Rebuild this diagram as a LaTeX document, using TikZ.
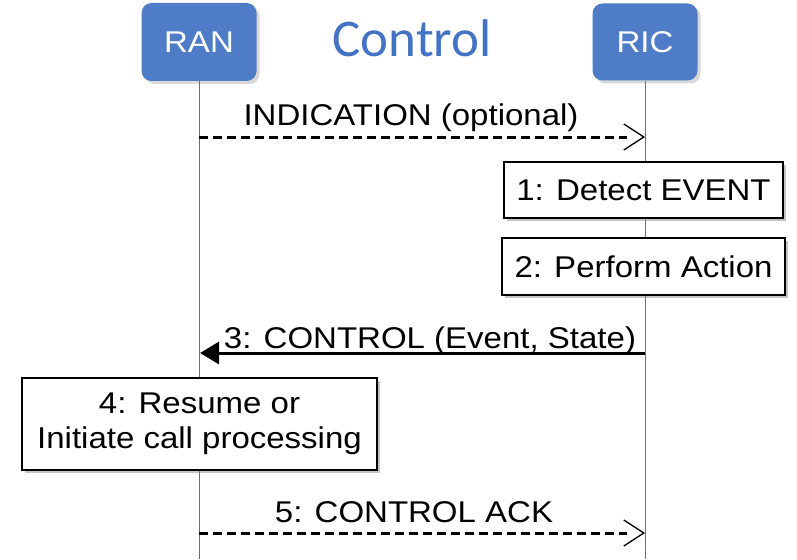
\documentclass[tikz,border=0pt]{standalone}
\usepackage{fontspec}
\setmainfont{Liberation Sans}[FakeStretch=1.1]
\newfontfamily\titlefont{Carlito}
\usetikzlibrary{arrows.meta,shadows,decorations.markings}
\definecolor{ranblue}{RGB}{79,124,199}
\definecolor{titleblue}{RGB}{68,114,196}
\definecolor{lifegray}{RGB}{110,110,110}
\begin{document}
\begin{tikzpicture}[x=1pt,y=-1pt,
  lbl/.style={font=\fontsize{30}{35}\selectfont},
  actor/.style={lbl, rounded corners=10pt, fill=ranblue, text=white, inner sep=0pt,
    drop shadow={shadow xshift=3pt,shadow yshift=-3pt,fill=black!30}},
  note/.style={lbl, draw, line width=1.3pt, fill=white, align=center, inner sep=0pt,
    drop shadow={shadow xshift=3pt,shadow yshift=-3pt,fill=black!45}},
  msg/.style={lbl, anchor=base, inner sep=0pt},
  life/.style={lifegray, line width=1pt},
  async/.style={line width=3pt, dash pattern=on 9pt off 5pt, shorten >=18pt,
    postaction={decorate, decoration={markings,
      mark=at position 1 with {\arrow[line width=1.3pt, solid]{Straight Barb[length=20pt,width=26pt]}}}}},
  sync/.style={-{Triangle[length=19pt,width=22pt]}, line width=3pt}
]
\useasboundingbox[fill=white] (0,0) rectangle (797,559);

% actors
\node[actor, minimum width=115pt, minimum height=78pt] (ran) at (199,42) {RAN};
\node[actor, minimum width=105pt, minimum height=77pt] (ric) at (645,42) {RIC};
\node[font=\titlefont\fontsize{53}{60}\selectfont, text=titleblue, anchor=base, inner sep=0pt] (title) at (412,57) {Control};

% lifelines
\coordinate (ranend) at (199,559);
\coordinate (ricend) at (645,559);
\draw[life] (ran.south) -- (ranend);
\draw[life] (ric.south) -- (ricend);

% notes
\node[note, minimum width=279pt, minimum height=56pt] (n1) at (643.5,190) {1: Detect EVENT};
\node[note, minimum width=283pt, minimum height=57pt] (n2) at (643.5,266.5) {2: Perform Action};
\node[note, minimum width=355pt, minimum height=92pt] (n4) at (199.5,424) {4: Resume or\\Initiate call processing};

% messages
\coordinate (m1a) at (199,137);
\coordinate (m1b) at (645,137);
\draw[async] (m1a) -- (m1b);
\node[msg] (l1) at (411,125) {INDICATION (optional)};

\coordinate (m3a) at (645,353);
\coordinate (m3b) at (200,353);
\draw[sync] (m3a) -- (m3b);
\node[msg] (l3) at (430,348) {3: CONTROL (Event, State)};

\coordinate (m5a) at (199,533);
\coordinate (m5b) at (645,533);
\draw[async] (m5a) -- (m5b);
\node[msg] (l5) at (414,522) {5: CONTROL ACK};
\end{tikzpicture}
\end{document}
